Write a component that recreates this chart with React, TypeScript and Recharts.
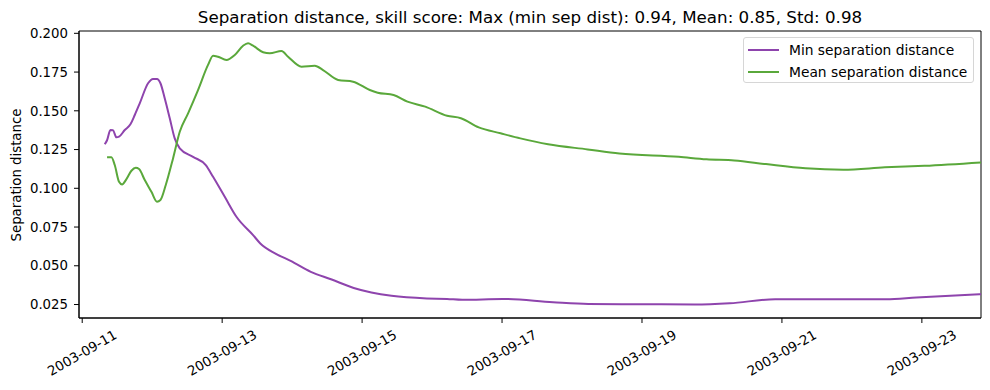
import React from 'react';
import { LineChart, Line, XAxis, YAxis, Legend, Label, ReferenceArea } from 'recharts';

// time is in days since 2003-09-11 00:00 UTC
const minTimes = [
  0.322, 0.355, 0.403, 0.44, 0.489, 0.526, 0.608, 0.689, 0.751, 0.822, 0.941, 1.012,
  1.069, 1.118, 1.179, 1.251, 1.322, 1.394, 1.584, 1.766, 1.87, 2.037, 2.204, 2.442,
  2.545, 2.762, 2.978, 3.267, 3.555, 3.88, 4.132, 4.42, 4.925, 5.214, 5.431, 6.007,
  6.729, 7.234, 7.954, 8.748, 9.254, 9.903, 10.696, 11.49, 11.921, 12.845,
];
const minValues = [
  0.1284, 0.131, 0.1376, 0.1374, 0.1329, 0.1333, 0.1376, 0.1413, 0.1473, 0.1548, 0.1678, 0.1706,
  0.1706, 0.1678, 0.1581, 0.1452, 0.1322, 0.1258, 0.1203, 0.115, 0.1074, 0.0945, 0.0816, 0.0698,
  0.0644, 0.0579, 0.0532, 0.0461, 0.0413, 0.0357, 0.0328, 0.0306, 0.0289, 0.0286, 0.028, 0.0286,
  0.0265, 0.0254, 0.0252, 0.025, 0.0258, 0.0284, 0.0284, 0.0284, 0.0295, 0.0317,
];

const meanTimes = [
  0.355, 0.417, 0.465, 0.526, 0.569, 0.632, 0.703, 0.765, 0.812, 0.894, 0.989, 1.069,
  1.118, 1.194, 1.298, 1.394, 1.513, 1.655, 1.798, 1.87, 1.941, 2.061, 2.18, 2.299,
  2.37, 2.442, 2.585, 2.681, 2.848, 2.942, 3.134, 3.324, 3.442, 3.657, 3.871, 4.11,
  4.223, 4.45, 4.648, 4.902, 5.214, 5.412, 5.667, 5.979, 6.262, 6.658, 7.224, 7.677,
  8.526, 8.922, 9.32, 9.771, 10.337, 10.876, 11.471, 12.037, 12.845,
];
const meanValues = [
  0.12, 0.12, 0.115, 0.1042, 0.1025, 0.1059, 0.1113, 0.1132, 0.1124, 0.1053, 0.0977, 0.0913,
  0.0924, 0.1021, 0.1193, 0.1365, 0.1484, 0.1634, 0.1796, 0.1856, 0.1849, 0.1828, 0.186, 0.192,
  0.1936, 0.192, 0.1878, 0.1871, 0.1886, 0.1849, 0.1785, 0.1791, 0.1763, 0.1699, 0.1688, 0.1634,
  0.1617, 0.1602, 0.1559, 0.1527, 0.1468, 0.1452, 0.1393, 0.1355, 0.1322, 0.1284, 0.1251, 0.1225,
  0.1203, 0.1187, 0.118, 0.1156, 0.1129, 0.112, 0.1135, 0.1145, 0.1167,
];

const seriesNames = ['Min separation distance', 'Mean separation distance'];
const xTicks = [0, 2, 4, 6, 8, 10, 12];
const yTicks = [0.025, 0.05, 0.075, 0.1, 0.125, 0.15, 0.175, 0.2];

const X_DOMAIN: [number, number] = [-0.046, 12.845];
const Y_DOMAIN: [number, number] = [0.0163, 0.2015];

const PURPLE = '#8e44ad';
const GREEN = '#5aa83b';
const FONT = '"DejaVu Sans", sans-serif';
const TICK_FS = 13.3;

const minData = minTimes.map((t, i) => ({ t, v: minValues[i] }));
const meanData = meanTimes.map((t, i) => ({ t, v: meanValues[i] }));

const baseMs = Date.UTC(2003, 8, 11);
const fmtDate = (d: number) => new Date(baseMs + d * 86400000).toISOString().slice(0, 10);

const DateTick = (props: any) => {
  const { x, y, payload } = props;
  const cy = y + 28;
  return (
    <text
      x={x}
      y={cy}
      textAnchor="middle"
      dominantBaseline="central"
      transform={`rotate(-30 ${x} ${cy})`}
      fontSize={TICK_FS}
      fill="#000"
    >
      {fmtDate(payload.value)}
    </text>
  );
};

// keep the legend in plotting order
const LegendBox = (props: any) => {
  const items = [...(props.payload || [])].sort(
    (a: any, b: any) => seriesNames.indexOf(a.value) - seriesNames.indexOf(b.value)
  );
  return (
    <div
      style={{
        border: '1px solid #d6d6d6',
        borderRadius: 3,
        background: 'rgba(255,255,255,0.8)',
        padding: '1px 0 0 4px',
        fontSize: 13.8,
        color: '#000',
        boxSizing: 'border-box',
        height: 46,
        lineHeight: 'normal',
      }}
    >
      {items.map((it: any) => (
        <div key={it.value} style={{ display: 'flex', alignItems: 'center', height: 21.7 }}>
          <svg width={41} height={10} style={{ flex: 'none' }}>
            <line x1={0} y1={5} x2={31} y2={5} stroke={it.color} strokeWidth={2} />
          </svg>
          <span style={{ whiteSpace: 'nowrap' }}>{it.value}</span>
        </div>
      ))}
    </div>
  );
};

export default function App() {
  return (
    <div
      style={{
        position: 'absolute',
        left: 0,
        top: 0,
        width: 990,
        height: 390,
        background: '#fff',
        fontFamily: FONT,
      }}
    >
      <div
        style={{
          position: 'absolute',
          left: 79,
          width: 902,
          top: 7,
          textAlign: 'center',
          fontSize: 16.7,
          color: '#000',
          whiteSpace: 'nowrap',
        }}
      >
        Separation distance, skill score: Max (min sep dist): 0.94, Mean: 0.85, Std: 0.98
      </div>
      <LineChart
        width={990}
        height={390}
        margin={{ top: 31, right: 9, bottom: 0, left: 0 }}
        style={{ fontFamily: FONT }}
      >
        <XAxis
          dataKey="t"
          type="number"
          domain={X_DOMAIN}
          allowDataOverflow
          ticks={xTicks}
          interval={0}
          height={72}
          tickSize={5}
          tickMargin={2}
          stroke="#000"
          tick={<DateTick />}
        />
        <YAxis
          type="number"
          domain={Y_DOMAIN}
          allowDataOverflow
          ticks={yTicks}
          interval={0}
          width={79}
          tickSize={5}
          tickMargin={6}
          stroke="#000"
          tick={{ fill: '#000', fontSize: TICK_FS }}
          tickFormatter={(v: number) => v.toFixed(3)}
        >
          <Label
            content={() => (
              <text
                x={16}
                y={175}
                transform="rotate(-90 16 175)"
                textAnchor="middle"
                dominantBaseline="central"
                fontSize={TICK_FS}
                fill="#000"
              >
                Separation distance
              </text>
            )}
          />
        </YAxis>
        <ReferenceArea
          x1={X_DOMAIN[0]}
          x2={X_DOMAIN[1]}
          y1={Y_DOMAIN[0]}
          y2={Y_DOMAIN[1]}
          fill="none"
          stroke="#000"
          strokeWidth={1}
          ifOverflow="visible"
        />
        <Line
          data={minData}
          dataKey="v"
          name={seriesNames[0]}
          type="monotone"
          stroke={PURPLE}
          strokeWidth={2}
          dot={false}
          isAnimationActive={false}
        />
        <Line
          data={meanData}
          dataKey="v"
          name={seriesNames[1]}
          type="monotone"
          stroke={GREEN}
          strokeWidth={2}
          dot={false}
          isAnimationActive={false}
        />
        <Legend
          layout="vertical"
          align="center"
          verticalAlign="middle"
          content={<LegendBox />}
          wrapperStyle={{ position: 'absolute', top: 37, left: 743, width: 231, height: 46 }}
        />
      </LineChart>
    </div>
  );
}
